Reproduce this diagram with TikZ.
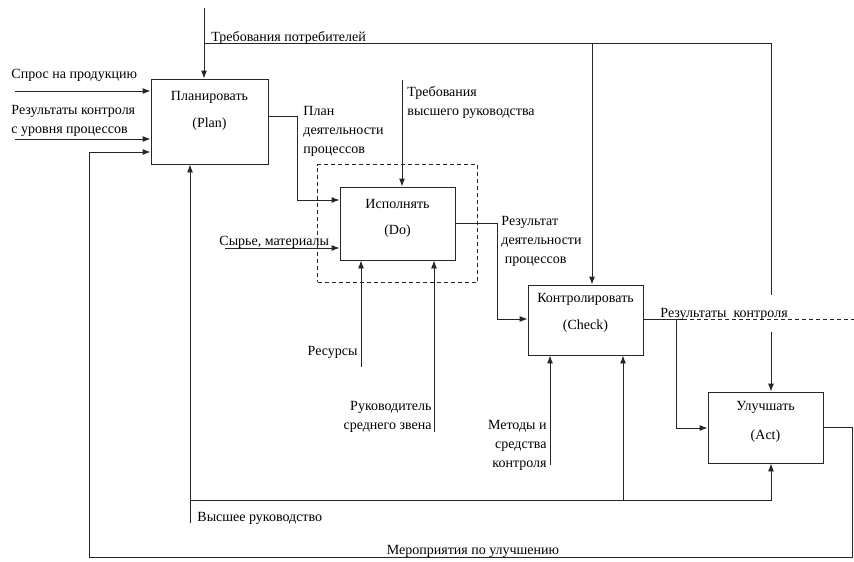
\documentclass[tikz,border=0pt]{standalone}
\usepackage{fontspec}
\setmainfont{Liberation Serif}
\usetikzlibrary{positioning, arrows.meta, fit}

\begin{document}
\begin{tikzpicture}[
        >={Latex[length=8pt,width=6pt]},
        line width=0.9pt,
        every node/.style={font=\fontsize{14}{19}\selectfont, inner sep=0pt},
        phase/.style={draw=black!85, rectangle, fill=white, minimum width=115pt},
        flow/.style={->, draw=black!85},
        wire/.style={draw=black!85},
        yscale=-1,
        x=1pt,
        y=1pt
    ]
    \useasboundingbox (0,0) rectangle (854,562);

    % the four PDCA stages
    \node[phase, minimum width=117pt, minimum height=85pt] (plan) at (209.5,121.5) {};
    \node[phase, minimum height=73pt] (do) at (397.5,223.5) {};
    \node[phase, minimum height=70pt] (check) at (585.5,320) {};
    \node[phase, minimum height=71pt] (act) at (765.5,427.5) {};
    \node[draw=black!85, line width=0.8pt, dash pattern=on 4pt off 3pt, fit=(do), inner sep=22pt] (do-frame) {};

    \node (plan-ru) at (209.5,97) {Планировать};
    \node (plan-en) at (209.5,124) {(Plan)};
    \node (do-ru) at (397.5,204) {Исполнять};
    \node (do-en) at (397.5,231) {(Do)};
    \node (check-ru) at (585.5,299) {Контролировать};
    \node (check-en) at (585.5,326) {(Check)};
    \node (act-ru) at (765.5,407) {Улучшать};
    \node (act-en) at (765.5,436) {(Act)};

    % free ends of the arrows
    \coordinate (cust-in) at (204,8);
    \coordinate (cust-j) at (204,43);
    \coordinate (cust-c) at (592,43);
    \coordinate (cust-e) at (771,43);
    \coordinate (demand-in) at (15,91);
    \coordinate (res-in) at (15,139);
    \coordinate (mgmt-in) at (402,80);
    \coordinate (raw-in) at (225,248);
    \coordinate (resources-in) at (361,367);
    \coordinate (mid-in) at (434,432);
    \coordinate (methods-in) at (550,465);
    \coordinate (top-in) at (190,523);
    \coordinate (top-j) at (190,500);
    \coordinate (top-c) at (623,500);
    \coordinate (top-e) at (771,500);
    \coordinate (out-j) at (676,319);
    \coordinate (out-s) at (683,319);
    \coordinate (out-e) at (854,319);

    % customer requirements
    \draw[flow] (cust-in) -- (cust-in |- plan.north);
    \draw[wire] (cust-j) -- (cust-e) -- (771,295);
    \draw[flow] (771,332) -- (cust-e |- act.north);
    \draw[flow] (cust-c) -- (cust-c |- check.north);
    \node[anchor=base west] (cust-lbl) at (211,41) {Требования потребителей};

    % inputs of plan
    \draw[flow] (demand-in) -- (demand-in -| plan.west);
    \node[anchor=base west] (demand-lbl) at (11,78) {Спрос на продукцию};
    \draw[flow] (res-in) -- (res-in -| plan.west);
    \node[anchor=base west, align=left] (res-lbl) at (11,133) {Результаты контроля\\с уровня процессов};

    % plan -> do
    \draw[flow] (plan.east |- 0,116) -- (297,116) -- (297,200) -- (do.west |- 0,200);
    \node[anchor=base west, align=left] (plan-lbl) at (303,153) {План\\деятельности\\процессов};

    \draw[flow] (mgmt-in) -- (mgmt-in |- do.north);
    \node[anchor=base west, align=left] (mgmt-lbl) at (407,115) {Требования\\высшего руководства};

    \draw[flow] (raw-in) -- (raw-in -| do.west);
    \node[anchor=base west] (raw-lbl) at (219,245) {Сырье, материалы};

    \draw[flow] (resources-in) -- (resources-in |- do.south);
    \node[anchor=base east] (resources-lbl) at (358,355) {Ресурсы};
    \draw[flow] (mid-in) -- (mid-in |- do.south);
    \node[anchor=base east, align=right] (mid-lbl) at (432,429) {Руководитель\\среднего звена};

    % do -> check
    \draw[flow] (do.east |- 0,223) -- (497,223) -- (497,319) -- (check.west |- 0,319);
    \node[anchor=base west, align=left] (do-lbl) at (501,263) {Результат\\деятельности\\\ процессов};

    \draw[flow] (methods-in) -- (methods-in |- check.south);
    \node[anchor=base east, align=right] (methods-lbl) at (547,467) {Методы и\\средства\\контроля};

    % check results
    \draw[wire] (check.east |- out-s) -- (out-s);
    \draw[wire, line width=0.8pt, dash pattern=on 4pt off 3pt] (out-s) -- (out-e);
    \node[anchor=base west] (out-lbl) at (660,317) {Результаты\ \ контроля};
    \draw[flow] (out-j) -- (676,428) -- (act.west |- 0,428);

    % top management
    \draw[flow] (top-in) -- (top-in |- plan.south);
    \draw[flow] (top-j) -- (top-e) -- (top-e |- act.south);
    \draw[flow] (top-c) -- (top-c |- check.south);
    \node[anchor=base west] (top-lbl) at (197,521) {Высшее руководство};

    % improvement loop back to plan
    \draw[flow] (act.east) -- (852.5,427.5) -- (852.5,557) -- (89,557) -- (89,152) -- (plan.west |- 0,152);
    \node[anchor=base] (impr-lbl) at (473,554) {Мероприятия по улучшению};
\end{tikzpicture}
\end{document}
